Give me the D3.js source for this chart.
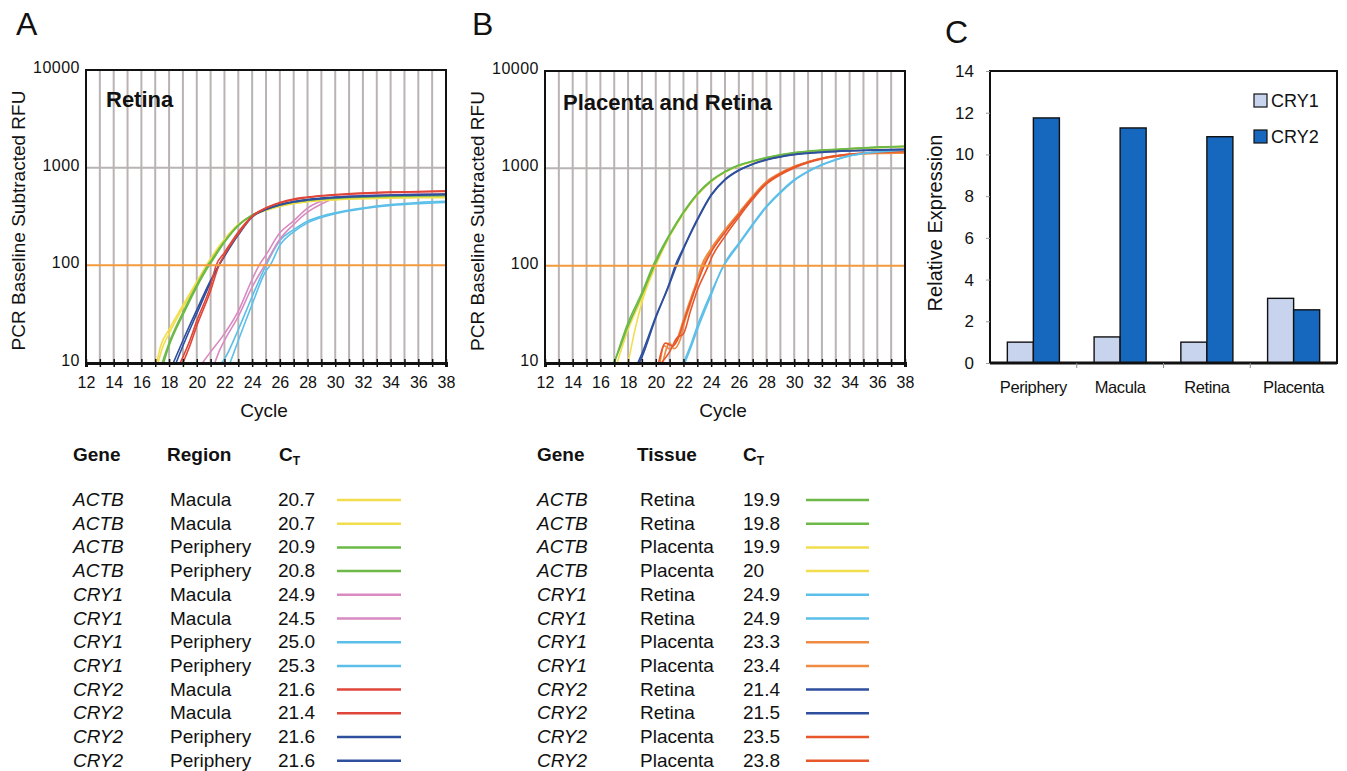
<!DOCTYPE html>
<html>
<head>
<meta charset="UTF-8">
<style>
  body { margin: 0; background: #fff; }
  svg { display: block; font-family: "Liberation Sans", Arial, sans-serif; }
</style>
</head>
<body>
<svg></svg>
<script src="https://d3js.org/d3.v7.min.js"></script>
<script>
// ---------- panel A: retina amplification curves [cycle, RFU] ----------
const aActbMac1 = [[17.2,10],[17.5,14],[18,20],[19,37],[20,66],[20.7,100],[21,117],[22,185],[23,262],[24,325],[25,368],[26,405],[27,432],[28,452],[30,472],[32,485],[34,492],[36,497],[38,500]];
const aActbMac2 = [[17.1,10],[17.4,15],[18,22],[19,39],[20,68],[20.7,100],[21,116],[22,182],[23,258],[24,322],[25,365],[26,400],[27,428],[28,448],[30,468],[32,480],[34,487],[36,492],[38,494]];
const aActbPer1 = [[17.6,10],[18,15],[19,31],[20,60],[20.9,100],[21,105],[22,172],[23,255],[24,325],[25,372],[26,412],[27,442],[28,462],[30,485],[32,498],[34,506],[36,512],[38,516]];
const aActbPer2 = [[17.5,10],[18,16],[19,33],[20,63],[20.8,100],[21,110],[22,176],[23,258],[24,328],[25,376],[26,418],[27,448],[28,468],[30,492],[32,505],[34,512],[36,518],[38,522]];
const aCry1Mac1 = [[21.3,10],[21.6,13],[22,17],[23,30],[24,60],[24.9,100],[25,106],[26,185],[27,262],[28,350],[29,425],[30,480],[32,512],[34,524],[36,530],[38,534]];
const aCry1Mac2 = [[20.4,10],[21,13],[22,20],[23,34],[24,72],[24.5,100],[25,128],[26,215],[27,285],[28,385],[29,455],[30,498],[32,520],[34,530],[36,536],[38,540]];
const aCry1Per1 = [[21.8,10],[22,11],[23,22],[24,48],[25,100],[26,180],[27,232],[28,283],[29,318],[30,345],[32,386],[34,418],[36,440],[38,452]];
const aCry1Per2 = [[22.4,10],[23,17],[24,40],[25,88],[25.3,100],[26,160],[27,220],[28,272],[30,338],[32,380],[34,410],[36,428],[38,440]];
const aCry2Mac1 = [[19.0,10],[19.5,15],[20,24],[21,55],[21.6,100],[22,128],[23,210],[24,315],[25,385],[26,435],[27,470],[28,495],[30,525],[32,545],[34,558],[36,565],[38,570]];
const aCry2Mac2 = [[18.8,10],[19.5,17],[20,27],[21,62],[21.4,100],[22,135],[23,220],[24,320],[25,388],[26,440],[27,478],[28,500],[30,530],[32,550],[34,562],[36,570],[38,578]];
const aCry2Per1 = [[18.3,10],[19,17],[20,35],[21,70],[21.6,100],[22,125],[23,210],[24,318],[25,378],[26,420],[27,450],[28,472],[30,500],[32,515],[34,525],[36,532],[38,536]];
const aCry2Per2 = [[18.5,10],[19,15],[20,32],[21,67],[21.6,100],[22,124],[23,205],[24,312],[25,372],[26,415],[27,445],[28,466],[30,494],[32,508],[34,518],[36,524],[38,528]];

// ---------- panel B: placenta and retina ----------
const bActbRet1 = [[16.9,10],[17,10.5],[18,24],[19,50],[19.9,100],[21,205],[22,350],[23,540],[24,740],[25,920],[26,1070],[27,1180],[28,1280],[29,1370],[30,1440],[32,1530],[34,1590],[36,1640],[38,1680]];
const bActbRet2 = [[17.0,10],[18,26],[19,53],[19.8,100],[21,210],[22,356],[23,548],[24,750],[25,930],[26,1080],[27,1190],[28,1290],[30,1450],[32,1540],[34,1600],[36,1650],[38,1690]];
const bActbPla1 = [[17.2,10],[18,22],[19,47],[19.9,100],[21,203],[22,346],[23,535],[24,735],[25,915],[26,1065],[27,1175],[28,1275],[30,1435],[32,1525],[34,1585],[36,1635],[38,1675]];
const bActbPla2 = [[18.0,10],[18.5,22],[19,42],[20,100],[21,200],[22,342],[23,530],[24,730],[25,910],[26,1060],[27,1170],[28,1270],[30,1430],[32,1520],[34,1580],[36,1630],[38,1670]];
const bCry1Ret1 = [[22.1,10],[22.5,14],[23,22],[24,50],[24.9,100],[25,105],[26,165],[27,260],[28,400],[29,560],[30,750],[31,920],[32,1080],[33,1220],[34,1340],[36,1470],[38,1540]];
const bCry1Ret2 = [[22.0,10],[22.5,15],[23,24],[24,53],[24.9,100],[25,107],[26,170],[27,268],[28,410],[29,575],[30,765],[31,935],[32,1095],[33,1235],[34,1350],[36,1480],[38,1550]];
const bCry1Pla1 = [[20.3,10],[20.6,15],[21,14],[21.5,17],[22,28],[22.5,45],[23,72],[23.3,100],[24,150],[25,235],[26,350],[27,520],[28,735],[29,900],[30,1050],[31,1170],[32,1270],[34,1380],[36,1430],[38,1450]];
const bCry1Pla2 = [[20.5,10],[21,16],[21.3,14],[21.8,18],[22,24],[22.5,40],[23,68],[23.4,100],[24,145],[25,228],[26,342],[27,510],[28,725],[29,890],[30,1040],[31,1160],[32,1260],[34,1370],[36,1420],[38,1440]];
const bCry2Ret1 = [[18.7,10],[19,12.5],[20,30],[21,67],[21.4,100],[22,152],[23,300],[24,535],[25,770],[26,960],[27,1110],[28,1230],[29,1320],[30,1390],[32,1470],[34,1520],[36,1550],[38,1570]];
const bCry2Ret2 = [[18.8,10],[19,11.5],[20,29],[21,65],[21.5,100],[22,148],[23,292],[24,525],[25,760],[26,950],[27,1100],[28,1220],[29,1310],[30,1380],[32,1460],[34,1510],[36,1540],[38,1560]];
const bCry2Pla1 = [[20.2,10],[20.7,16],[21.2,15],[21.7,19],[22,26],[22.5,42],[23,66],[23.5,100],[24,138],[25,220],[26,335],[27,500],[28,710],[29,880],[30,1030],[31,1160],[32,1270],[34,1400],[36,1460],[38,1490]];
const bCry2Pla2 = [[20.4,10],[21,13],[21.5,18],[22,20],[22.5,34],[23,56],[23.8,100],[24,118],[25,200],[26,315],[27,480],[28,690],[29,860],[30,1010],[31,1140],[32,1250],[34,1390],[36,1460],[38,1500]];

// ---------- tables ----------
const tableAGene   = ["ACTB","ACTB","ACTB","ACTB","CRY1","CRY1","CRY1","CRY1","CRY2","CRY2","CRY2","CRY2"];
const tableARegion = ["Macula","Macula","Periphery","Periphery","Macula","Macula","Periphery","Periphery","Macula","Macula","Periphery","Periphery"];
const tableACt     = ["20.7","20.7","20.9","20.8","24.9","24.5","25.0","25.3","21.6","21.4","21.6","21.6"];
const tableBGene   = ["ACTB","ACTB","ACTB","ACTB","CRY1","CRY1","CRY1","CRY1","CRY2","CRY2","CRY2","CRY2"];
const tableBTissue = ["Retina","Retina","Placenta","Placenta","Retina","Retina","Placenta","Placenta","Retina","Retina","Placenta","Placenta"];
const tableBCt     = ["19.9","19.8","19.9","20","24.9","24.9","23.3","23.4","21.4","21.5","23.5","23.8"];

const curvesA = [aActbMac1, aActbMac2, aActbPer1, aActbPer2, aCry1Mac1, aCry1Mac2, aCry1Per1, aCry1Per2, aCry2Mac1, aCry2Mac2, aCry2Per1, aCry2Per2];
const curvesB = [bActbRet1, bActbRet2, bActbPla1, bActbPla2, bCry1Ret1, bCry1Ret2, bCry1Pla1, bCry1Pla2, bCry2Ret1, bCry2Ret2, bCry2Pla1, bCry2Pla2];

// ---------- panel C ----------
const tissues = ["Periphery", "Macula", "Retina", "Placenta"];
const cry1Expr = [1.0, 1.25, 1.0, 3.1];
const cry2Expr = [11.75, 11.27, 10.85, 2.55];
const exprTicks = [0, 2, 4, 6, 8, 10, 12, 14];
const cycleTicks = d3.range(12, 39);
const rfuTicks = [10, 100, 1000, 10000];

// colours
const cYellow = "#f2de4c", cGreen = "#6cb947", cPink = "#d98ac2", cLBlue = "#5cbfe9",
      cRed = "#df4538", cDBlue = "#2e4f9e", cOrange = "#ef8a42", cRedOr = "#e8562c";
const colorsA = [cYellow, cYellow, cGreen, cGreen, cPink, cPink, cLBlue, cLBlue, cRed, cRed, cDBlue, cDBlue];
const colorsB = [cGreen, cGreen, cYellow, cYellow, cLBlue, cLBlue, cOrange, cOrange, cDBlue, cDBlue, cRedOr, cRedOr];
const drawOrderA = [6, 7, 4, 5, 0, 1, 2, 3, 10, 11, 8, 9];
const drawOrderB = [6, 7, 10, 11, 4, 5, 2, 3, 0, 1, 8, 9];

const gridColor = "#b9b3b3";

const svg = d3.select("svg").attr("width", 1347).attr("height", 771);
svg.append("rect").attr("width", 1347).attr("height", 771).attr("fill", "#fff");

function ampPanel(o) {
  const x = d3.scaleLinear().domain([12, 38]).range([o.left, o.right]);
  const y = d3.scaleLog().domain([10, 10000]).range([o.bottom, o.top]);
  const g = svg.append("g");

  g.append("g").selectAll("line").data(cycleTicks.slice(1, -1)).join("line")
    .attr("x1", d => x(d)).attr("x2", d => x(d))
    .attr("y1", o.top).attr("y2", o.bottom)
    .attr("stroke", gridColor).attr("stroke-width", 2);
  g.append("line").attr("x1", o.left).attr("x2", o.right)
    .attr("y1", y(1000)).attr("y2", y(1000))
    .attr("stroke", gridColor).attr("stroke-width", 2);

  svg.append("clipPath").attr("id", o.id + "clip").append("rect")
    .attr("x", o.left).attr("y", o.top).attr("width", o.right - o.left).attr("height", o.bottom - o.top);

  const line = d3.line().x(d => x(d[0])).y(d => y(d[1])).curve(d3.curveMonotoneX);
  g.append("g").attr("clip-path", `url(#${o.id}clip)`)
    .selectAll("path").data(o.order).join("path")
    .attr("d", i => line(o.curves[i]))
    .attr("fill", "none")
    .attr("stroke", i => o.colors[i])
    .attr("stroke-width", 1.6);

  g.append("line").attr("x1", o.left).attr("x2", o.right)
    .attr("y1", y(100)).attr("y2", y(100))
    .attr("stroke", "#f49a3e").attr("stroke-width", 2);

  g.append("rect").attr("x", o.left).attr("y", o.top)
    .attr("width", o.right - o.left).attr("height", o.bottom - o.top)
    .attr("fill", "none").attr("stroke", "#111").attr("stroke-width", 2);

  const ax = g.append("g").attr("transform", `translate(0,${o.bottom})`)
    .call(d3.axisBottom(x).tickValues(cycleTicks).tickSize(4).tickPadding(10)
      .tickFormat(d => d % 2 === 0 ? d : ""));
  ax.attr("font-family", null);
  ax.select(".domain").attr("stroke", "#111").attr("stroke-width", 3);
  ax.selectAll(".tick line").attr("y1", -4).attr("stroke", "#111").attr("stroke-width", 1.5);
  ax.selectAll("text").attr("font-size", 16).attr("fill", "#111");

  const ay = g.append("g").attr("transform", `translate(${o.left},0)`)
    .call(d3.axisLeft(y).tickValues(rfuTicks).tickFormat(d3.format("d")).tickSize(0).tickPadding(6));
  ay.attr("font-family", null);
  ay.select(".domain").remove();
  ay.selectAll("text").attr("font-size", 16).attr("letter-spacing", 0.5).attr("fill", "#111").attr("dy", "0.15em");

  g.append("text").attr("transform", `translate(${o.ylabX},${(o.top + o.bottom) / 2 + 4}) rotate(-90)`)
    .attr("text-anchor", "middle").attr("font-size", 19).attr("fill", "#111")
    .text("PCR Baseline Subtracted RFU");
  g.append("text").attr("x", (o.left + o.right) / 2 - 2).attr("y", 417)
    .attr("text-anchor", "middle").attr("font-size", 19).attr("fill", "#111").text("Cycle");
  g.append("text").attr("x", o.left + o.titleDx).attr("y", o.titleY)
    .attr("font-size", 22).attr("font-weight", "bold").attr("fill", "#111").text(o.title);
  g.append("text").attr("x", o.letterX).attr("y", 35)
    .attr("font-size", 32).attr("fill", "#111").text(o.letter);
}

ampPanel({ id: "a", left: 86, right: 446, top: 70, bottom: 363, curves: curvesA, colors: colorsA,
  order: drawOrderA, title: "Retina", titleDx: 20, titleY: 107, ylabX: 25, letter: "A", letterX: 16 });
ampPanel({ id: "b", left: 545, right: 905, top: 71, bottom: 363, curves: curvesB, colors: colorsB,
  order: drawOrderB, title: "Placenta and Retina", titleDx: 18, titleY: 110, ylabX: 484, letter: "B", letterX: 472 });

// ---------- tables ----------
function table(o) {
  const g = svg.append("g").attr("fill", "#111").attr("font-size", 19);
  const rowY = i => 506 + i * 23.7;
  g.append("text").attr("x", o.geneX).attr("y", 461).attr("font-weight", "bold").text("Gene");
  g.append("text").attr("x", o.colX).attr("y", 461).attr("font-weight", "bold").text(o.colName);
  const ct = g.append("text").attr("x", o.ctHeadX).attr("y", 461).attr("font-weight", "bold");
  ct.append("tspan").text("C");
  ct.append("tspan").attr("font-size", 12).attr("dy", 4).text("T");

  g.selectAll(".gene").data(o.genes).join("text")
    .attr("x", o.geneX).attr("y", (d, i) => rowY(i)).attr("font-style", "italic").text(d => d);
  g.selectAll(".col").data(o.col).join("text")
    .attr("x", o.colX + 3).attr("y", (d, i) => rowY(i)).text(d => d);
  g.selectAll(".ct").data(o.ct).join("text")
    .attr("x", o.ctX).attr("y", (d, i) => rowY(i)).attr("text-anchor", o.ctAnchor).text(d => d);
  g.selectAll("line").data(o.colors).join("line")
    .attr("x1", o.lineX1).attr("x2", o.lineX2)
    .attr("y1", (d, i) => rowY(i) - 6).attr("y2", (d, i) => rowY(i) - 6)
    .attr("stroke", d => d).attr("stroke-width", 2.5);
}
table({ genes: tableAGene, col: tableARegion, ct: tableACt, colors: colorsA, colName: "Region",
  geneX: 73, colX: 167, ctHeadX: 279, ctX: 315, ctAnchor: "end", lineX1: 337, lineX2: 401 });
table({ genes: tableBGene, col: tableBTissue, ct: tableBCt, colors: colorsB, colName: "Tissue",
  geneX: 537, colX: 637, ctHeadX: 743, ctX: 743, ctAnchor: "start", lineX1: 806, lineX2: 869 });

// ---------- panel C: bar chart ----------
(function () {
  const left = 990, right = 1337, top = 71, bottom = 363;
  const x0 = d3.scaleBand().domain(tissues).range([left, right]).paddingInner(0.4).paddingOuter(0.2);
  const x1 = d3.scaleBand().domain(["CRY1", "CRY2"]).range([0, x0.bandwidth()]);
  const y = d3.scaleLinear().domain([0, 14]).range([bottom, top]);
  const barColor = { CRY1: "#c8d4ee", CRY2: "#1668be" };
  const g = svg.append("g");

  g.append("rect").attr("x", left).attr("y", top).attr("width", right - left).attr("height", bottom - top)
    .attr("fill", "#fff").attr("stroke", "#111").attr("stroke-width", 2);

  const groups = g.selectAll(".grp").data(tissues).join("g")
    .attr("transform", d => `translate(${x0(d)},0)`);
  groups.selectAll("rect").data((d, i) => [
    { k: "CRY1", v: cry1Expr[i] }, { k: "CRY2", v: cry2Expr[i] }]).join("rect")
    .attr("x", d => x1(d.k)).attr("width", x1.bandwidth())
    .attr("y", d => y(d.v)).attr("height", d => y(0) - y(d.v))
    .attr("fill", d => barColor[d.k]).attr("stroke", "#111").attr("stroke-width", 1.4);

  g.append("line").attr("x1", left).attr("x2", right).attr("y1", bottom).attr("y2", bottom)
    .attr("stroke", "#111").attr("stroke-width", 3);
  const step = x0.step();
  g.selectAll(".sep").data(d3.range(1, tissues.length)).join("line")
    .attr("x1", i => left + i * step).attr("x2", i => left + i * step)
    .attr("y1", bottom).attr("y2", bottom + 5).attr("stroke", "#888").attr("stroke-width", 1);

  const ay = g.append("g").attr("transform", `translate(${left},0)`)
    .call(d3.axisLeft(y).tickValues(exprTicks).tickSize(4).tickPadding(12));
  ay.attr("font-family", null);
  ay.select(".domain").remove();
  ay.selectAll(".tick line").attr("stroke", "#999");
  ay.selectAll("text").attr("font-size", 17).attr("fill", "#111");

  g.selectAll(".xl").data(tissues).join("text")
    .attr("x", d => x0(d) + x0.bandwidth() / 2).attr("y", 393)
    .attr("text-anchor", "middle").attr("font-size", 16.5).attr("letter-spacing", -0.4)
    .attr("fill", "#111").text(d => d);

  g.append("text").attr("transform", `translate(942,${(top + bottom) / 2 + 6}) rotate(-90)`)
    .attr("text-anchor", "middle").attr("font-size", 20).attr("fill", "#111").text("Relative Expression");

  const leg = g.selectAll(".leg").data(["CRY1", "CRY2"]).join("g")
    .attr("transform", (d, i) => `translate(1254,${94 + i * 36})`);
  leg.append("rect").attr("width", 13).attr("height", 13)
    .attr("fill", d => barColor[d]).attr("stroke", "#111").attr("stroke-width", 1.2);
  leg.append("text").attr("x", 17).attr("y", 13).attr("font-size", 18).attr("fill", "#111").text(d => d);

  g.append("text").attr("x", 945).attr("y", 43).attr("font-size", 32).attr("fill", "#111").text("C");
})();
</script>
</body>
</html>
